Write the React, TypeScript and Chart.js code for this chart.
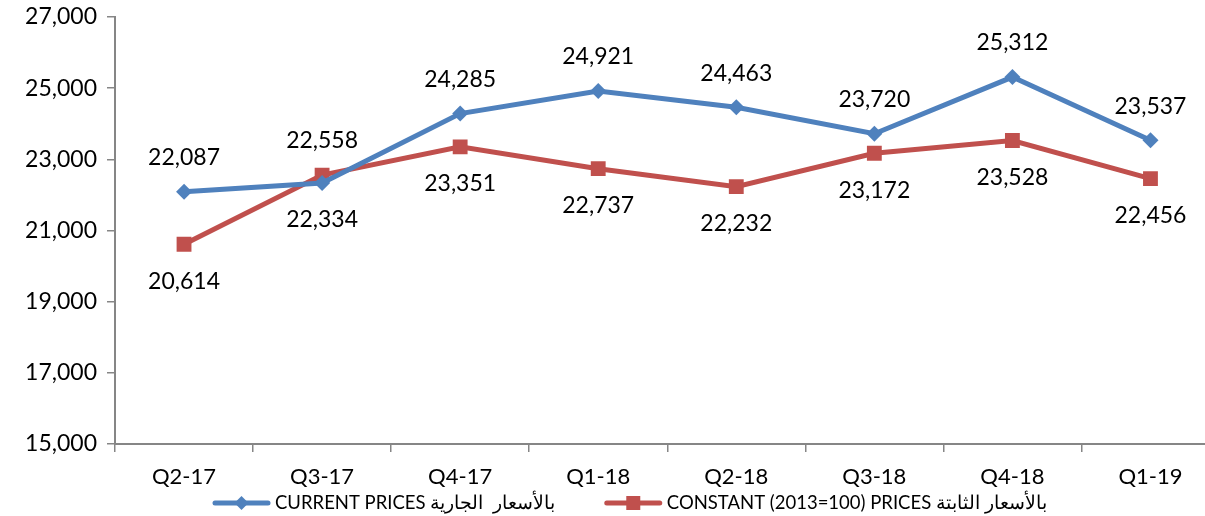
import React, { useEffect, useRef } from "react";
import { Chart, registerables } from "chart.js";

Chart.register(...registerables);

const categories = ["Q2-17", "Q3-17", "Q4-17", "Q1-18", "Q2-18", "Q3-18", "Q4-18", "Q1-19"];
const currentPrices = [22087, 22334, 24285, 24921, 24463, 23720, 25312, 23537];
const constantPrices = [20614, 22558, 23351, 22737, 22232, 23172, 23528, 22456];
const currentLabel = "CURRENT PRICES بالأسعار  الجارية";
const constantLabel = "CONSTANT (2013=100) PRICES بالأسعار الثابتة";
const yMin = 15000;
const yMax = 27000;
const yStep = 2000;

const BLUE = "#4F81BD";
const RED = "#C0504D";
const FONT = "Lato";

const fmt = (v: number) => v.toLocaleString("en-US");

const dataLabelPlugin = {
  id: "dataLabels",
  afterDatasetsDraw(chart: any) {
    const ctx = chart.ctx;
    ctx.save();
    ctx.font = `23px ${FONT}`;
    ctx.fillStyle = "#000";
    ctx.textAlign = "center";
    ctx.textBaseline = "middle";
    const ds = chart.data.datasets;
    ds.forEach((d: any, di: number) => {
      const meta = chart.getDatasetMeta(di);
      meta.data.forEach((pt: any, i: number) => {
        const other = ds[1 - di].data[i];
        const above = d.data[i] >= other;
        const y = above ? pt.y - 34 : pt.y + 37;
        ctx.fillText(fmt(d.data[i]), pt.x, y);
      });
    });
    ctx.restore();
  },
};

const legendPlugin = {
  id: "customLegend",
  afterDraw(chart: any) {
    const ctx = chart.ctx;
    ctx.save();
    ctx.font = `18.5px ${FONT}`;
    ctx.textBaseline = "middle";
    const y = 503;
    const lineLen = 57;
    const gap = 5;
    const itemGap = 50;
    let x = 213;
    chart.data.datasets.forEach((d: any) => {
      ctx.strokeStyle = d.borderColor;
      ctx.fillStyle = d.borderColor;
      ctx.lineWidth = 5;
      ctx.lineCap = "round";
      ctx.beginPath();
      ctx.moveTo(x + 2, y);
      ctx.lineTo(x + lineLen - 2, y);
      ctx.stroke();
      const cx = x + lineLen / 2;
      ctx.beginPath();
      if (d.pointStyle === "rectRot") {
        ctx.moveTo(cx, y - 7);
        ctx.lineTo(cx + 7, y);
        ctx.lineTo(cx, y + 7);
        ctx.lineTo(cx - 7, y);
      } else {
        ctx.rect(cx - 7, y - 7, 14, 14);
      }
      ctx.closePath();
      ctx.fill();
      ctx.fillStyle = "#000";
      ctx.textAlign = "left";
      ctx.fillText(d.label, x + lineLen + gap, y);
      x += lineLen + gap + ctx.measureText(d.label).width + itemGap;
    });
    ctx.restore();
  },
};

export default function App() {
  const ref = useRef<HTMLCanvasElement>(null);
  useEffect(() => {
    document.documentElement.style.overflow = "hidden";
    document.body.style.overflow = "hidden";
    const chart = new Chart(ref.current!, {
      type: "line",
      data: {
        labels: categories,
        datasets: [
          {
            label: currentLabel,
            data: currentPrices,
            borderColor: BLUE,
            backgroundColor: BLUE,
            borderWidth: 5,
            pointStyle: "rectRot",
            pointRadius: 8,
            pointBorderWidth: 0,
            tension: 0,
          },
          {
            label: constantLabel,
            data: constantPrices,
            borderColor: RED,
            backgroundColor: RED,
            borderWidth: 5,
            pointStyle: "rect",
            pointRadius: 10.5,
            pointBorderWidth: 0,
            tension: 0,
          },
        ],
      },
      options: {
        responsive: false,
        animation: false,
        layout: { padding: { left: 0, top: 17, right: 7, bottom: 0 } },
        plugins: { legend: { display: false }, tooltip: { enabled: false } },
        scales: {
          x: {
            offset: true,
            grid: {
              display: true,
              offset: true,
              drawOnChartArea: false,
              drawTicks: true,
              tickLength: 8,
              color: "#868686",
              lineWidth: 1.5,
            },
            border: { display: true, color: "#868686", width: 2 },
            ticks: { color: "#000", font: { family: FONT, size: 22 }, padding: 12, maxRotation: 0 },
            afterFit: (s: any) => {
              s.height = 72;
              s.paddingLeft = 0;
              s.paddingRight = 0;
            },
          },
          y: {
            min: yMin,
            max: yMax,
            ticks: {
              stepSize: yStep,
              color: "#000",
              font: { family: FONT, size: 23 },
              padding: 10,
              callback: (v: any) => fmt(Number(v)),
            },
            grid: {
              display: true,
              drawOnChartArea: false,
              drawTicks: true,
              tickLength: 8,
              color: "#868686",
              lineWidth: 1.5,
            },
            border: { display: true, color: "#868686", width: 2 },
            afterFit: (s: any) => {
              s.width = 115;
              s.paddingTop = 0;
              s.paddingBottom = 0;
            },
          },
        },
      },
      plugins: [dataLabelPlugin, legendPlugin],
    });
    return () => chart.destroy();
  }, []);
  return (
    <div style={{ position: "fixed", left: 0, top: 0, width: 1230, height: 516, background: "#fff" }}>
      <canvas ref={ref} width={1230} height={516} />
    </div>
  );
}
